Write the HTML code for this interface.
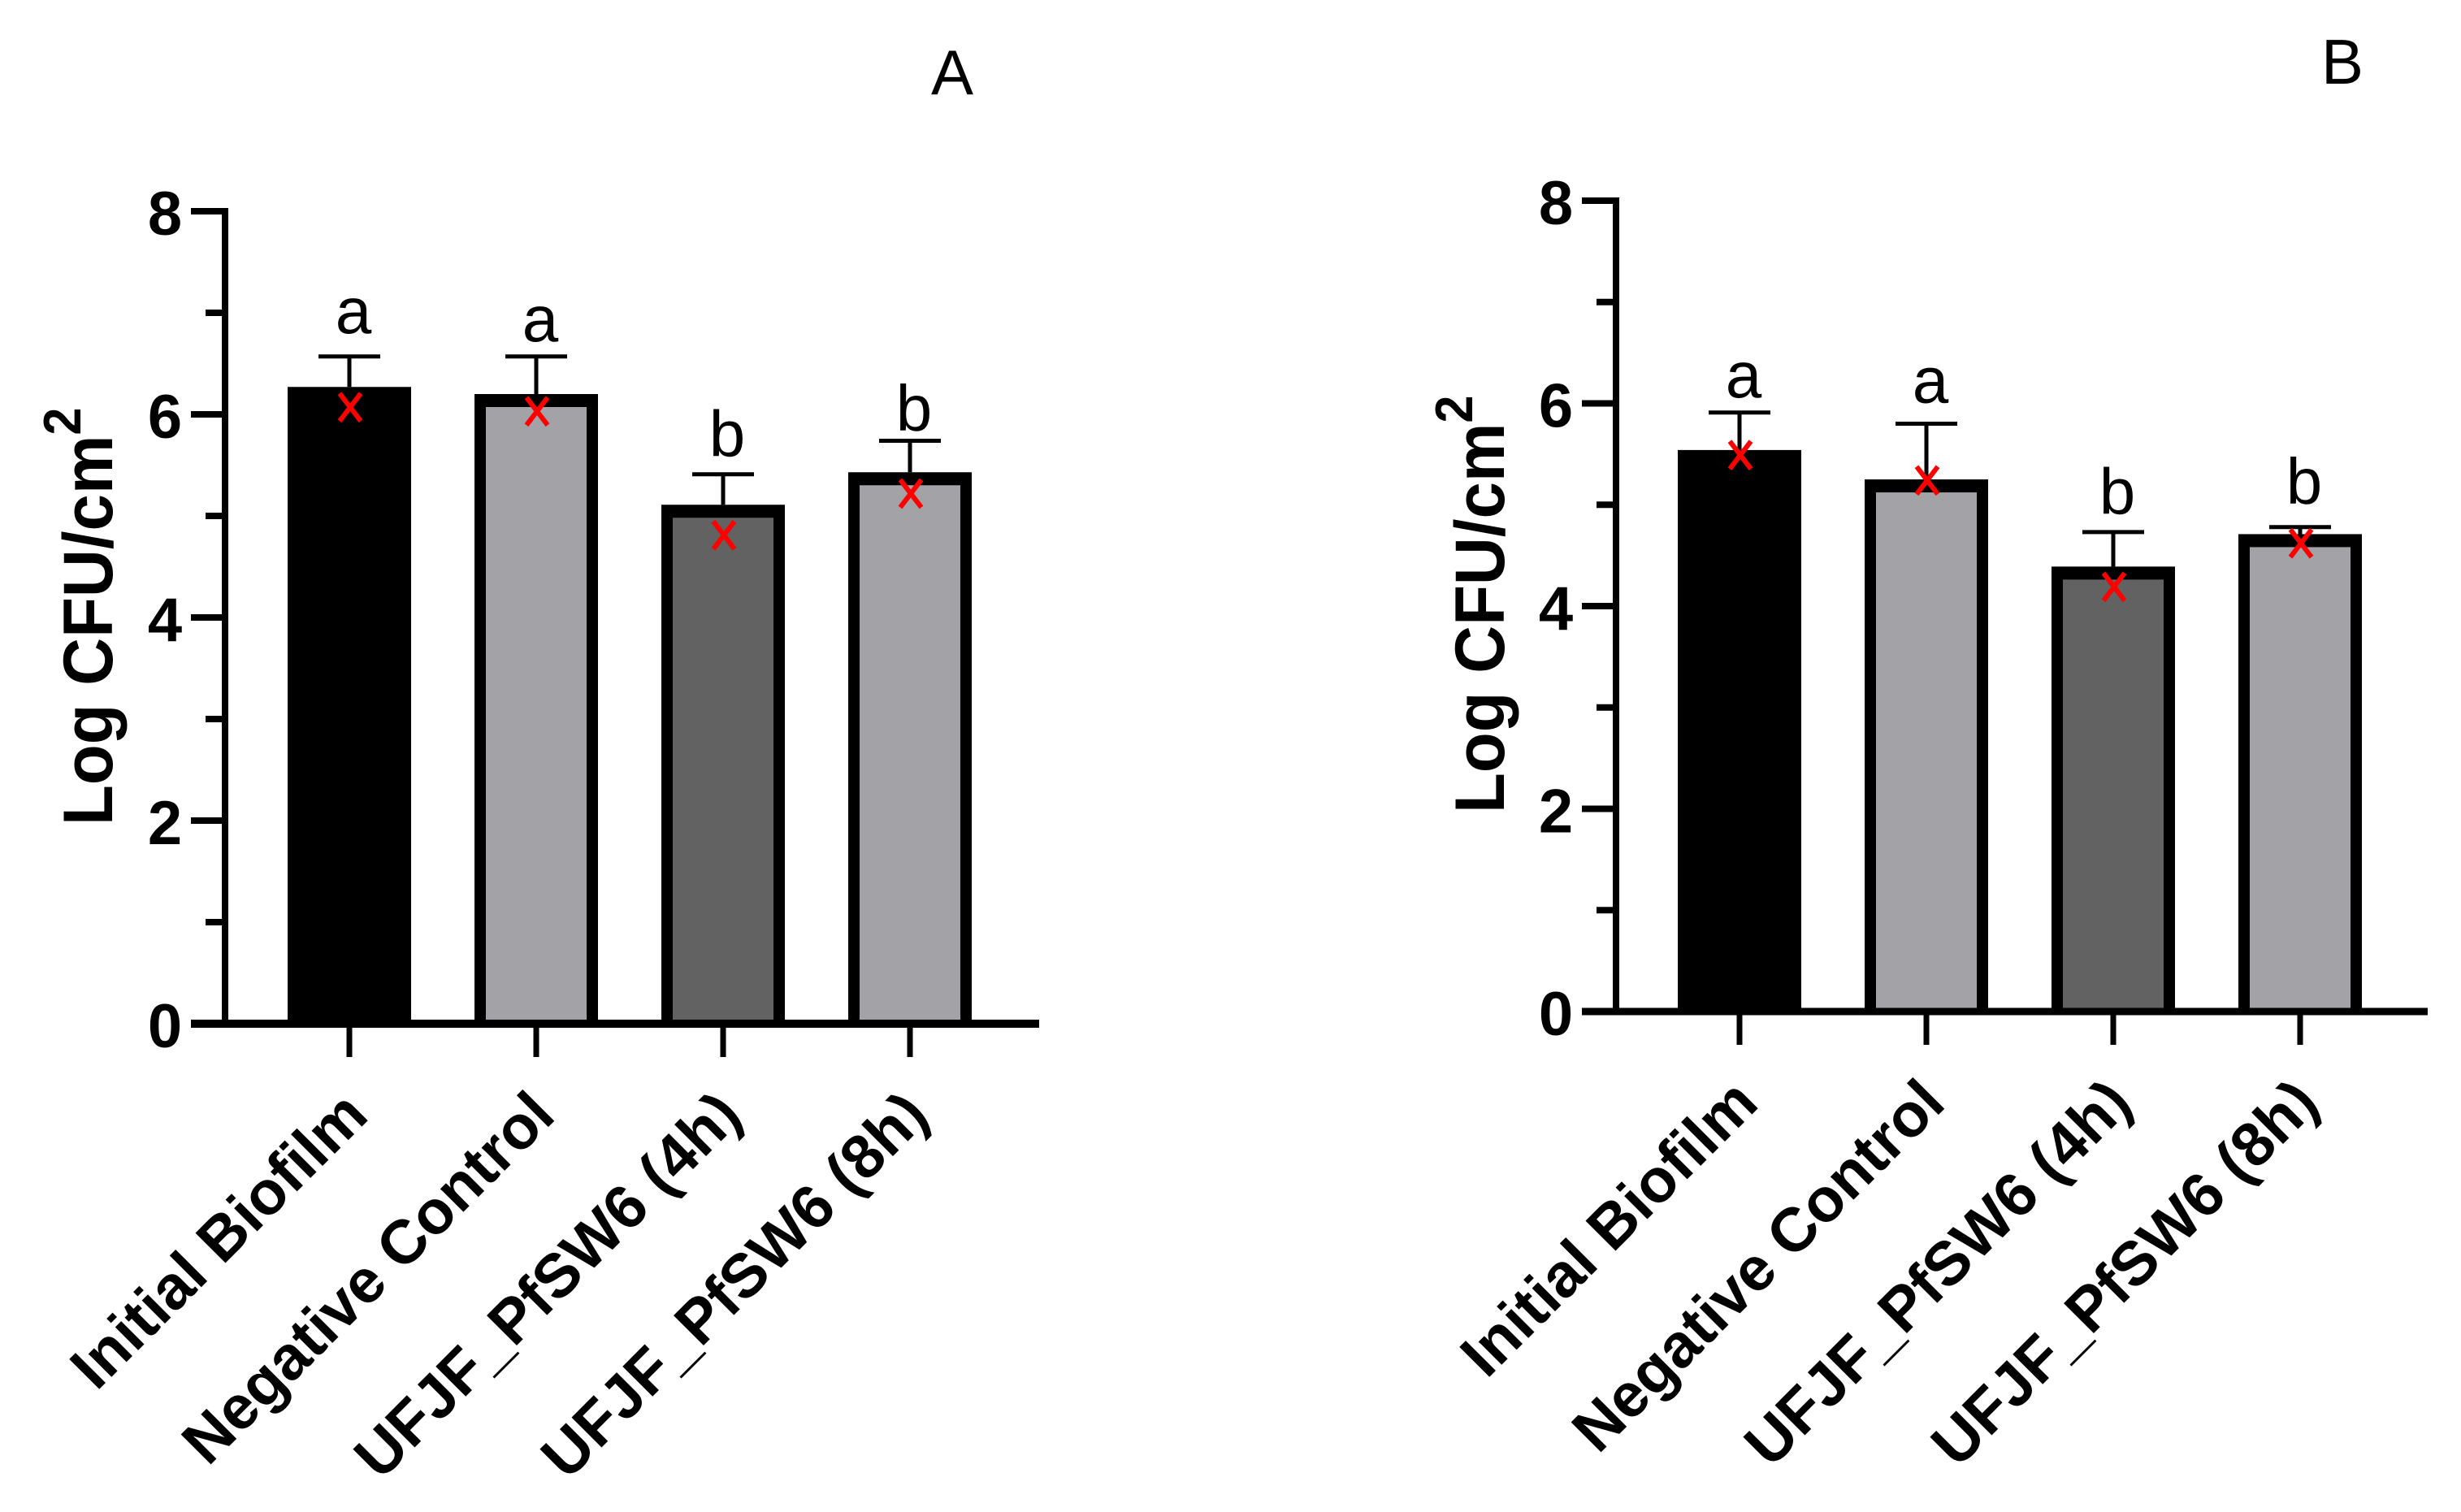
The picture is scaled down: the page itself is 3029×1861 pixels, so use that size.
<!DOCTYPE html>
<html lang="en">
<head>
<meta charset="utf-8">
<title>Log CFU/cm2 bar charts</title>
<style>
html,body{margin:0;padding:0;background:#fff;}
svg{display:block;}
text{font-family:"Liberation Sans",Arial,sans-serif;fill:#000;}
</style>
</head>
<body>
<svg id="figure" xmlns="http://www.w3.org/2000/svg" width="3029" height="1861" viewBox="0 0 3029 1861"></svg>
<script>
const categories = ["Initial Biofilm", "Negative Control", "UFJF_PfSW6 (4h)", "UFJF_PfSW6 (8h)"];
const barFills = ["#000000", "#a3a2a6", "#626262", "#a3a2a6"];
const yTicks = [0, 2, 4, 6, 8];
const yMinorTicks = [1, 3, 5, 7];
const groupLetters = ["a", "a", "b", "b"];

const valuesA = [6.27, 6.20, 5.11, 5.43];
const errorTopsA = [6.57, 6.57, 5.41, 5.74];
const meansA = [6.07, 6.03, 4.81, 5.22];
const letterLevelsA = [6.80, 6.72, 5.59, 5.84];

const valuesB = [5.54, 5.25, 4.39, 4.71];
const errorTopsB = [5.91, 5.80, 4.73, 4.78];
const meansB = [5.49, 5.24, 4.19, 4.62];
const letterLevelsB = [6.06, 6.01, 4.91, 5.01];

const svgNS = "http://www.w3.org/2000/svg";
const figure = document.getElementById("figure");

function add(parent, tag, attrs, content) {
  const node = document.createElementNS(svgNS, tag);
  for (const key in attrs) node.setAttribute(key, attrs[key]);
  if (content !== undefined) node.textContent = content;
  parent.appendChild(node);
  return node;
}

function drawPanel(cfg, values, errorTops, means, letterLevels) {
  const xPos = i => cfg.firstX + i * cfg.stepX;
  const yPos = v => cfg.baseY - v * cfg.unitY;
  let el;

  const panel = add(figure, "g", {});
  
  

  el = add(panel, "text", {x: cfg.titleX, y: cfg.titleY, "font-size": 78, "text-anchor": "middle"}, cfg.title);
  
  

  categories.forEach((name, i) => {
    const left = xPos(i) - cfg.barWidth / 2;
    const top = yPos(values[i]);
    let mark = add(panel, "rect", {x: left, y: top, width: cfg.barWidth, height: cfg.baseY - top, fill: "#000"});
    
    
    mark = add(panel, "rect", {x: left + 14, y: top + 16, width: cfg.barWidth - 28, height: Math.max(0, cfg.baseY - top - 16), fill: barFills[i]});
    
    

    mark = add(panel, "line", {x1: xPos(i), x2: xPos(i), y1: yPos(errorTops[i]), y2: top, stroke: "#000", "stroke-width": 5});
    
    
    mark = add(panel, "line", {x1: xPos(i) - 38, x2: xPos(i) + 38, y1: yPos(errorTops[i]), y2: yPos(errorTops[i]), stroke: "#000", "stroke-width": 5});
    
    

    const mx = xPos(i) + 1;
    const my = yPos(means[i]);
    mark = add(panel, "path", {d: "M" + (mx - 13) + " " + (my - 17) + "L" + (mx + 13) + " " + (my + 17) + "M" + (mx + 13) + " " + (my - 17) + "L" + (mx - 13) + " " + (my + 17), stroke: "#ff0000", "stroke-width": 6, fill: "none"});
    
    

    mark = add(panel, "text", {x: xPos(i) + 5, y: yPos(letterLevels[i]), "font-size": 80, "text-anchor": "middle"}, groupLetters[i]);
    
    

    mark = add(panel, "line", {x1: xPos(i), x2: xPos(i), y1: cfg.baseY, y2: cfg.baseY + 41, stroke: "#000", "stroke-width": 7});
    
    

    const lx = xPos(i) + 26;
    const ly = cfg.baseY + 116;
    mark = add(panel, "text", {x: lx, y: ly, "font-size": 76, "font-weight": "bold", "text-anchor": "end", transform: "rotate(-45 " + lx + " " + ly + ")"}, name);
    
    
  });

  el = add(panel, "line", {x1: cfg.axisX, x2: cfg.axisX, y1: yPos(8) - 4, y2: cfg.baseY, stroke: "#000", "stroke-width": 8});
  
  

  el = add(panel, "line", {x1: cfg.axisX - 42, x2: cfg.axisEndX, y1: cfg.baseY, y2: cfg.baseY, stroke: "#000", "stroke-width": cfg.baseWidth});
  
  

  yTicks.forEach(t => {
    if (t > 0) {
      let mark = add(panel, "line", {x1: cfg.axisX - 42, x2: cfg.axisX, y1: yPos(t), y2: yPos(t), stroke: "#000", "stroke-width": 8});
      
      
    }
    const label = add(panel, "text", {x: cfg.axisX - 74, y: yPos(t) + 29, "font-size": 76, "font-weight": "bold", "text-anchor": "middle"}, t);
    
    
  });
  yMinorTicks.forEach(t => {
    const mark = add(panel, "line", {x1: cfg.axisX - 24, x2: cfg.axisX, y1: yPos(t), y2: yPos(t), stroke: "#000", "stroke-width": 8});
    
    
  });

  el = add(panel, "text", {"font-size": 80, "font-weight": "bold", transform: "translate(" + cfg.yTitleX + " " + cfg.yTitleY + ") rotate(-90) scale(1.02 1.08)"});
  
  
  const main = add(el, "tspan", {}, "Log CFU/cm");
  
  
  const sup = add(el, "tspan", {dy: -36, "font-size": 60}, "2");
  
  
}

drawPanel(
  {title: "A", titleX: 1172, titleY: 116, firstX: 430, stepX: 230, baseY: 1260, unitY: 125, barWidth: 152, axisX: 277, axisEndX: 1279, baseWidth: 10, yTitleX: 138, yTitleY: 1016},
  valuesA, errorTopsA, meansA, letterLevelsA
);
drawPanel(
  {title: "B", titleX: 2883, titleY: 103, firstX: 2141, stepX: 230, baseY: 1245, unitY: 124.75, barWidth: 152, axisX: 1989, axisEndX: 2988, baseWidth: 9, yTitleX: 1851, yTitleY: 1001},
  valuesB, errorTopsB, meansB, letterLevelsB
);
</script>
</body>
</html>
